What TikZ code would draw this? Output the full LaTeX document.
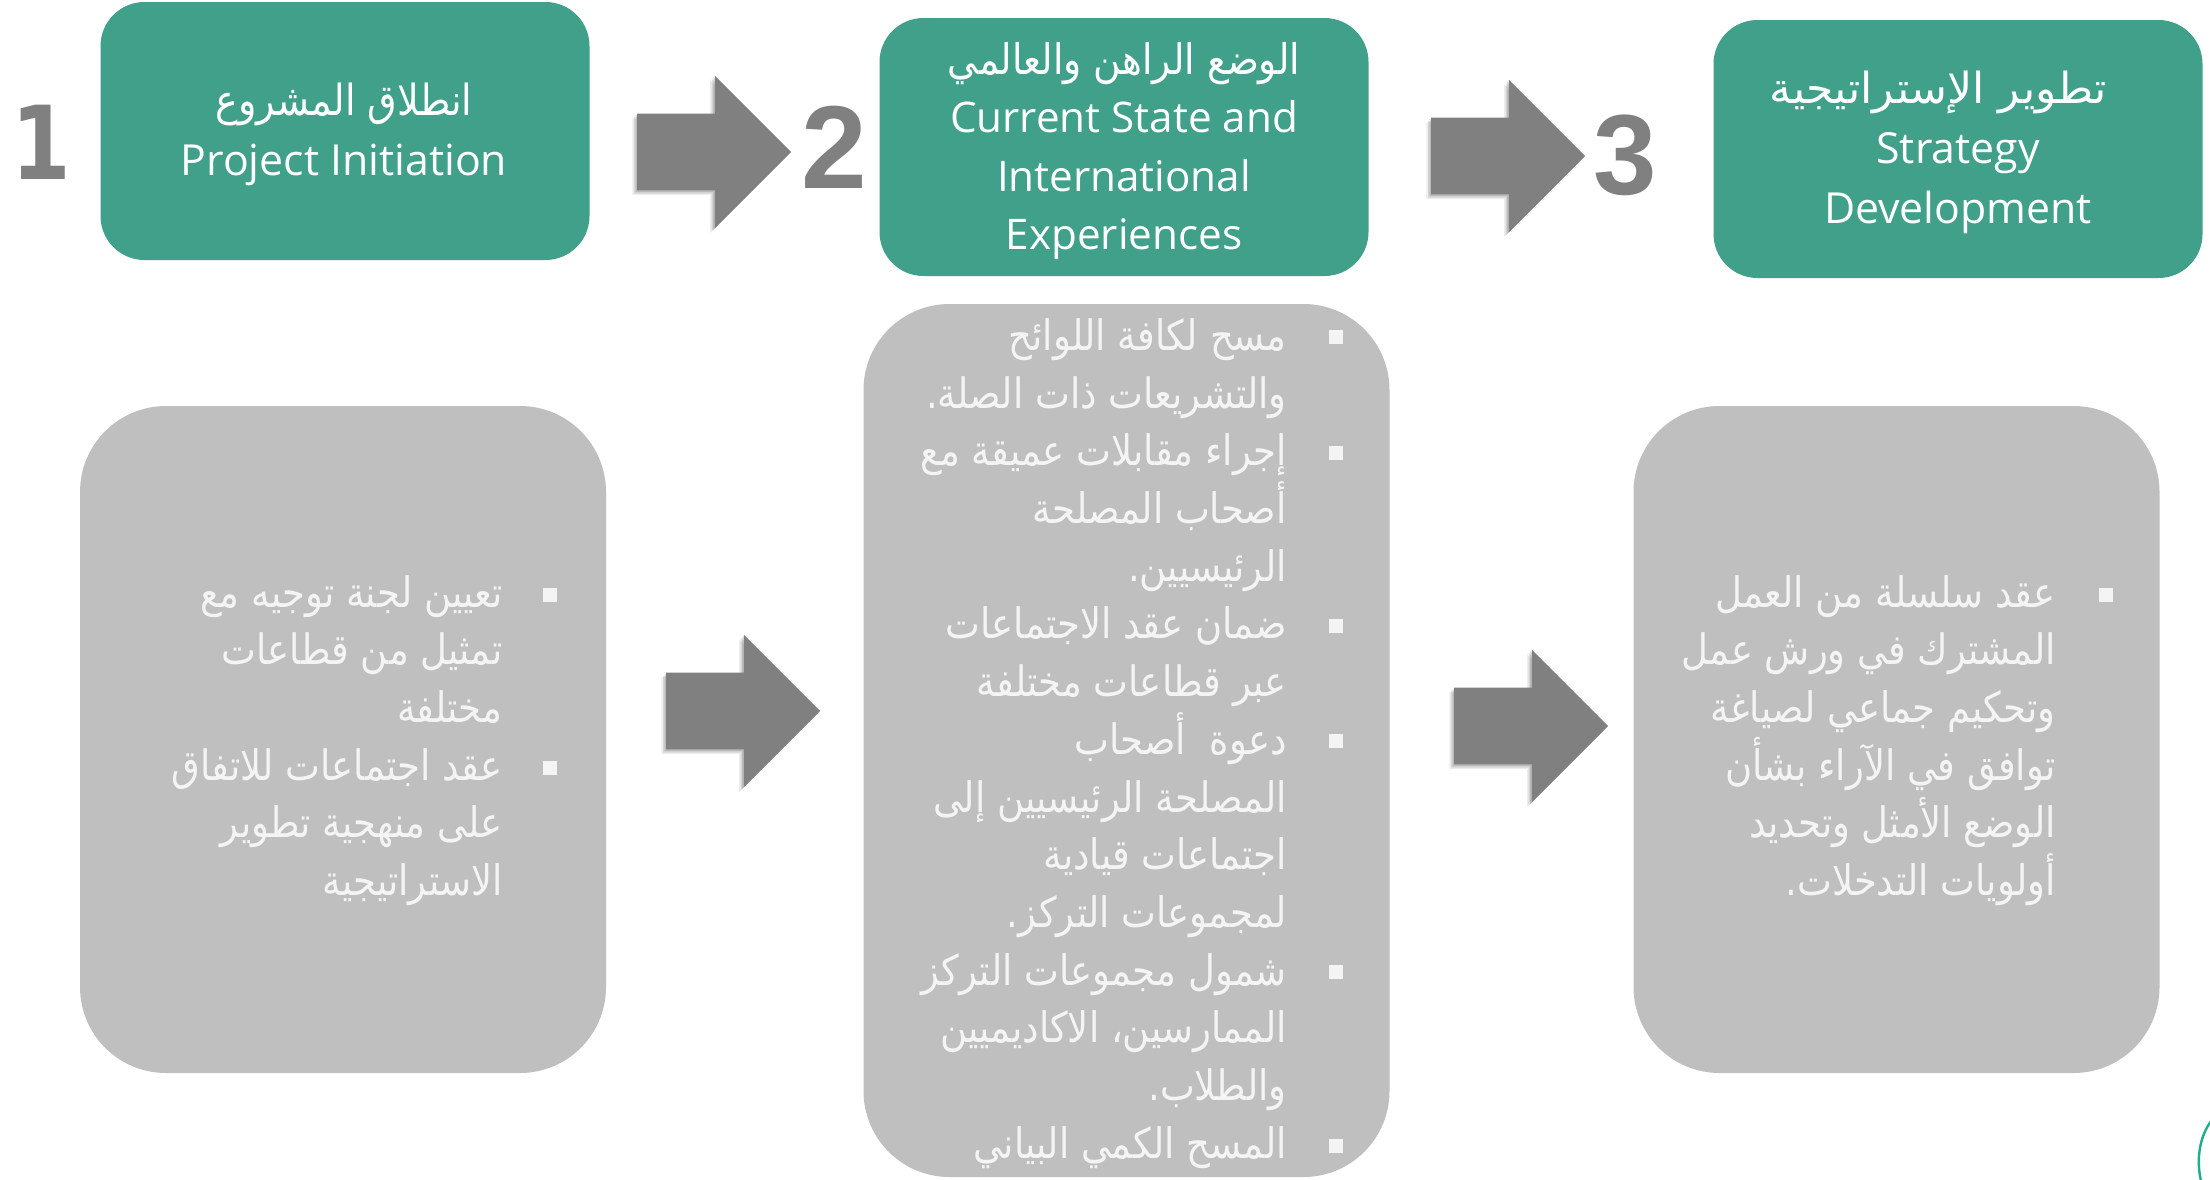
\documentclass[tikz,border=0pt]{standalone}
\usepackage{fontspec}
\TeXXeTstate=1
\setmainfont{Open Sans}
\newfontfamily\arfont[Script=Arabic,FakeStretch=0.88]{DejaVu Sans}
\newfontfamily\arhead[Script=Arabic,FakeStretch=0.89]{DejaVu Sans}
\newfontfamily\arwide[Script=Arabic,FakeStretch=1.03]{DejaVu Sans}
\newfontfamily\numA{DejaVu Sans}
\newfontfamily\numB{Liberation Sans}
\usetikzlibrary{shapes.arrows,shadows}
\newcommand{\AR}[1]{{\arfont\beginR #1\endR}}
\newcommand{\ARH}[1]{{\arhead\beginR #1\endR}}
\newcommand{\ARW}[1]{{\arwide\beginR #1\endR}}
\definecolor{boxgreen}{HTML}{41A08A}
\definecolor{boxgray}{HTML}{BFBFBF}
\definecolor{arrowgray}{HTML}{808080}
\definecolor{softwhite}{HTML}{F4F4F4}
\definecolor{arcgreen}{HTML}{1FAE8B}
\tikzset{
  x=0.5pt,y=-0.5pt,
  headbox/.style={fill=boxgreen,rounded corners=22pt,inner sep=0pt,minimum width=244.5pt,minimum height=129pt},
  headtext/.style={text=white,align=center,inner sep=0pt},
  panel/.style={fill=boxgray,rounded corners=43pt,inner sep=0pt,minimum width=263pt},
  paneltext/.style={text=softwhite,align=right,anchor=east,inner sep=0pt,font=\arfont\fontsize{21}{28.85}\selectfont},
  bulletmark/.style={fill=softwhite,inner sep=0pt,minimum size=6.8pt},
  blockarrow/.style={single arrow,fill=arrowgray,inner xsep=0pt,inner ysep=19pt,minimum height=77pt,minimum width=0pt,
    single arrow head extend=19pt,single arrow tip angle=90,single arrow head indent=0pt,
    general shadow={shadow xshift=-0.8pt,shadow yshift=-0.8pt,fill=black,opacity=.12},
    general shadow={shadow xshift=-1.6pt,shadow yshift=-1.6pt,fill=black,opacity=.10},
    general shadow={shadow xshift=-2.4pt,shadow yshift=-2.4pt,fill=black,opacity=.07}},
  numeral/.style={text=arrowgray,inner sep=0pt},
}
\begin{document}
\begin{tikzpicture}
\clip (0,0) rectangle (2210,1179);
\fill[white] (0,0) rectangle (2210,1179);
% header boxes
\node[headbox] (head1) at (345,131) {};
\node[headbox] (head2) at (1124,147) {};
\node[headbox] (head3) at (1958,149) {};
\node[headtext,font=\fontsize{21.4}{30}\selectfont] (label1) at (344,134) {\ARH{انطلاق المشروع}\\Project Initiation};
\node[headtext,font=\fontsize{21.1}{29.3}\selectfont] (label2) at (1124,151) {\ARH{الوضع الراهن والعالمي}\\Current State and\\International\\Experiences};
\node[headtext,font=\fontsize{21.4}{30}\selectfont] (label3) at (1958,152) {\ARW{تطوير الإستراتيجية}\hspace*{20pt}\\Strategy\\Development};
% numerals
\node[numeral,font=\numA\bfseries\fontsize{51}{51}\selectfont,xscale=.84] (num1) at (41,142) {1};
\node[numeral,font=\numB\bfseries\fontsize{59}{59}\selectfont] (num2) at (834,147) {2};
\node[numeral,font=\numB\bfseries\fontsize{57}{57}\selectfont] (num3) at (1625,155) {3};
% panels
\node[panel,minimum height=333.5pt] (panel1) at (343,739.5) {};
\node[panel,minimum height=436.5pt] (panel2) at (1126.5,740.5) {};
\node[panel,minimum height=333.5pt] (panel3) at (1896.5,739.5) {};
% arrows
\node[blockarrow] (arrow1) at (695,152) {};
\node[blockarrow] (arrow2) at (1489,156) {};
\node[blockarrow] (arrow3) at (724,711) {};
\node[blockarrow] (arrow4) at (1512,726) {};
% panel texts
\node[paneltext] (text1) at (503,740.5) {%
\AR{تعيين لجنة توجيه مع}\\
\AR{تمثيل من قطاعات}\\
\AR{مختلفة}\\
\AR{عقد اجتماعات للاتفاق}\hspace*{2pt}\\
\AR{على منهجية تطوير}\hspace*{2pt}\\
\AR{الاستراتيجية}};
\node[paneltext] (text2) at (1287,743.5) {%
\AR{مسح لكافة اللوائح}\\
\AR{والتشريعات ذات الصلة.}\\
\AR{إجراء مقابلات عميقة مع}\\
\AR{أصحاب المصلحة}\\
\AR{الرئيسيين.}\\
\AR{ضمان عقد الاجتماعات}\\
\AR{عبر قطاعات مختلفة}\\
\AR{دعوة\hspace{6pt} أصحاب}\hspace*{13.4pt}\\
\AR{المصلحة الرئيسيين إلى}\\
\AR{اجتماعات قيادية}\\
\AR{لمجموعات التركز.}\\
\AR{شمول مجموعات التركز}\\
\AR{الممارسين، الاكاديميين}\\
\AR{والطلاب.}\\
\AR{المسح الكمي البياني}};
\node[paneltext] (text3) at (2056,740.5) {%
\AR{عقد سلسلة من العمل}\\
\AR{المشترك في ورش عمل}\\
\AR{وتحكيم جماعي لصياغة}\\
\AR{توافق في الآراء بشأن}\\
\AR{الوضع الأمثل وتحديد}\\
\AR{أولويات التدخلات.}};
% bullets
\foreach \n/\y in {a/595,b/768} \node[bulletmark] (bl\n) at (550,\y) {};
\foreach \n/\y in {a/337,b/453,c/626,d/741,e/972,f/1146} \node[bulletmark] (bm\n) at (1336,\y) {};
\node[bulletmark] (br) at (2106,595) {};
% cut-off ring at the corner
\draw[arcgreen,line width=1.2pt] (2212,1120) .. controls (2202,1132) and (2195,1155) .. (2201,1181);
\end{tikzpicture}
\end{document}
